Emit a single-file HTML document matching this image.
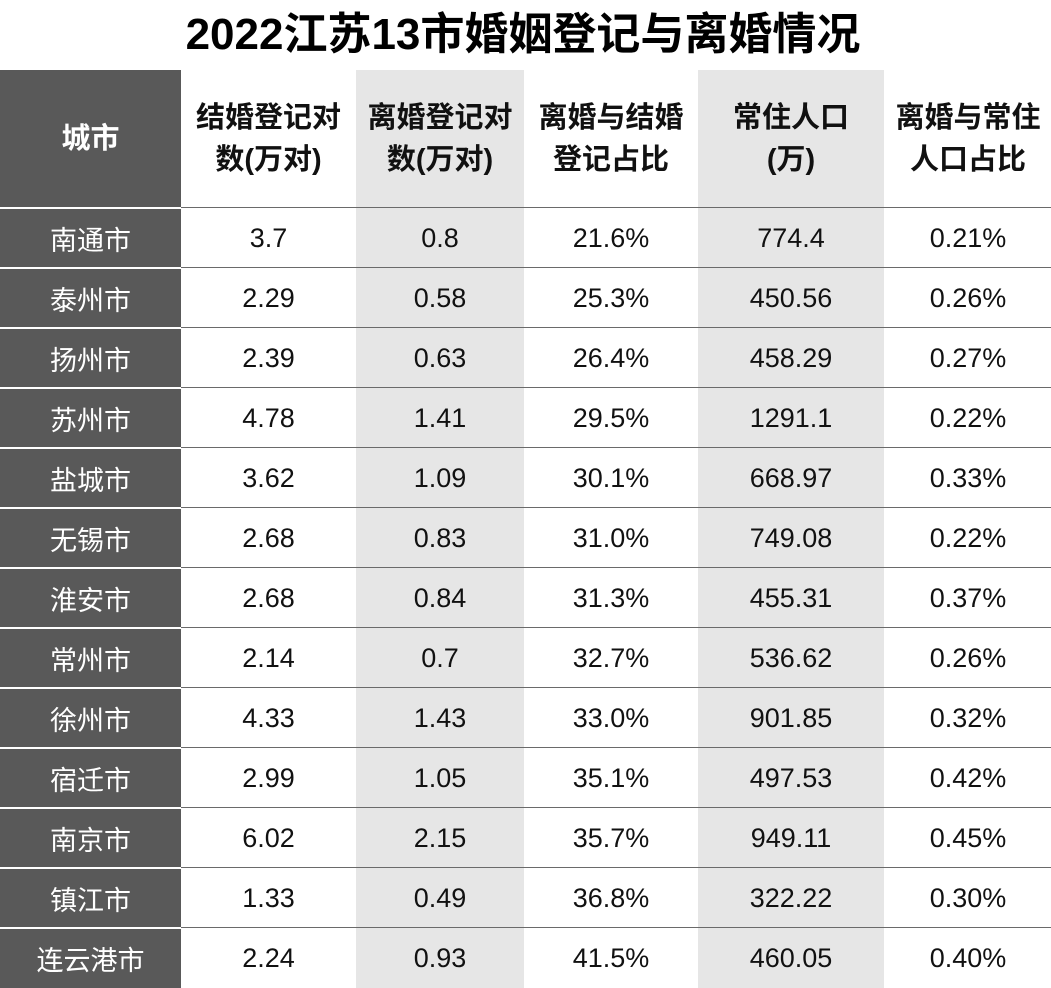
<!DOCTYPE html>
<html><head><meta charset="utf-8"><style>
*{margin:0;padding:0;box-sizing:border-box}
body{width:1051px;height:987px;background:#fff;overflow:hidden;font-family:"Liberation Sans","Noto Sans CJK SC",sans-serif;position:relative}
.title{position:absolute;left:0;top:7px;width:1046px;text-align:center;font-size:44px;font-weight:bold;line-height:56px;color:#000}
.cell{position:absolute;display:flex;align-items:center;justify-content:center;text-align:center;font-size:27px;color:#111}
.h{font-weight:bold;font-size:29px;line-height:42px}
.city{background:#595959;color:#fff}
.g{background:#e6e6e6}
.line{position:absolute;height:1px;background:#6a6a6a}
.wl{position:absolute;left:0;width:181px;height:2px;background:#fff}
</style></head><body>
<div class="title">2022江苏13市婚姻登记与离婚情况</div>
<div id="t"></div>
<script>
var cols=[0,181,355,524,697,884,1051];
var hd=["城市","结婚登记对<br>数(万对)","离婚登记对<br>数(万对)","离婚与结婚<br>登记占比","常住人口<br>(万)","离婚与常住<br>人口占比"];
var d=[["南通市","3.7","0.8","21.6%","774.4","0.21%"],["泰州市","2.29","0.58","25.3%","450.56","0.26%"],["扬州市","2.39","0.63","26.4%","458.29","0.27%"],["苏州市","4.78","1.41","29.5%","1291.1","0.22%"],["盐城市","3.62","1.09","30.1%","668.97","0.33%"],["无锡市","2.68","0.83","31.0%","749.08","0.22%"],["淮安市","2.68","0.84","31.3%","455.31","0.37%"],["常州市","2.14","0.7","32.7%","536.62","0.26%"],["徐州市","4.33","1.43","33.0%","901.85","0.32%"],["宿迁市","2.99","1.05","35.1%","497.53","0.42%"],["南京市","6.02","2.15","35.7%","949.11","0.45%"],["镇江市","1.33","0.49","36.8%","322.22","0.30%"],["连云港市","2.24","0.93","41.5%","460.05","0.40%"]];
var h="";
function cell(c,y,hh,txt,cls){var x=cols[c],w=cols[c+1]-x;var k=c==0?"city":(c==2||c==4?"g":"");
if(c>0&&c<6)w-=1;
h+='<div class="cell '+k+' '+cls+'" style="left:'+(c>0?x+1:x)+'px;top:'+y+'px;width:'+w+'px;height:'+hh+'px">'+txt+'</div>';}
for(var c=0;c<6;c++)cell(c,70,138,hd[c],"h");
for(var r=0;r<13;r++){var y=208+r*60;for(var c=0;c<6;c++)cell(c,y,60,d[r][c],"");
h+='<div class="line" style="left:181px;width:870px;top:'+(y-1)+'px"></div><div class="wl" style="top:'+(y-1)+'px"></div>';}
document.getElementById("t").innerHTML=h;
</script>
</body></html>
